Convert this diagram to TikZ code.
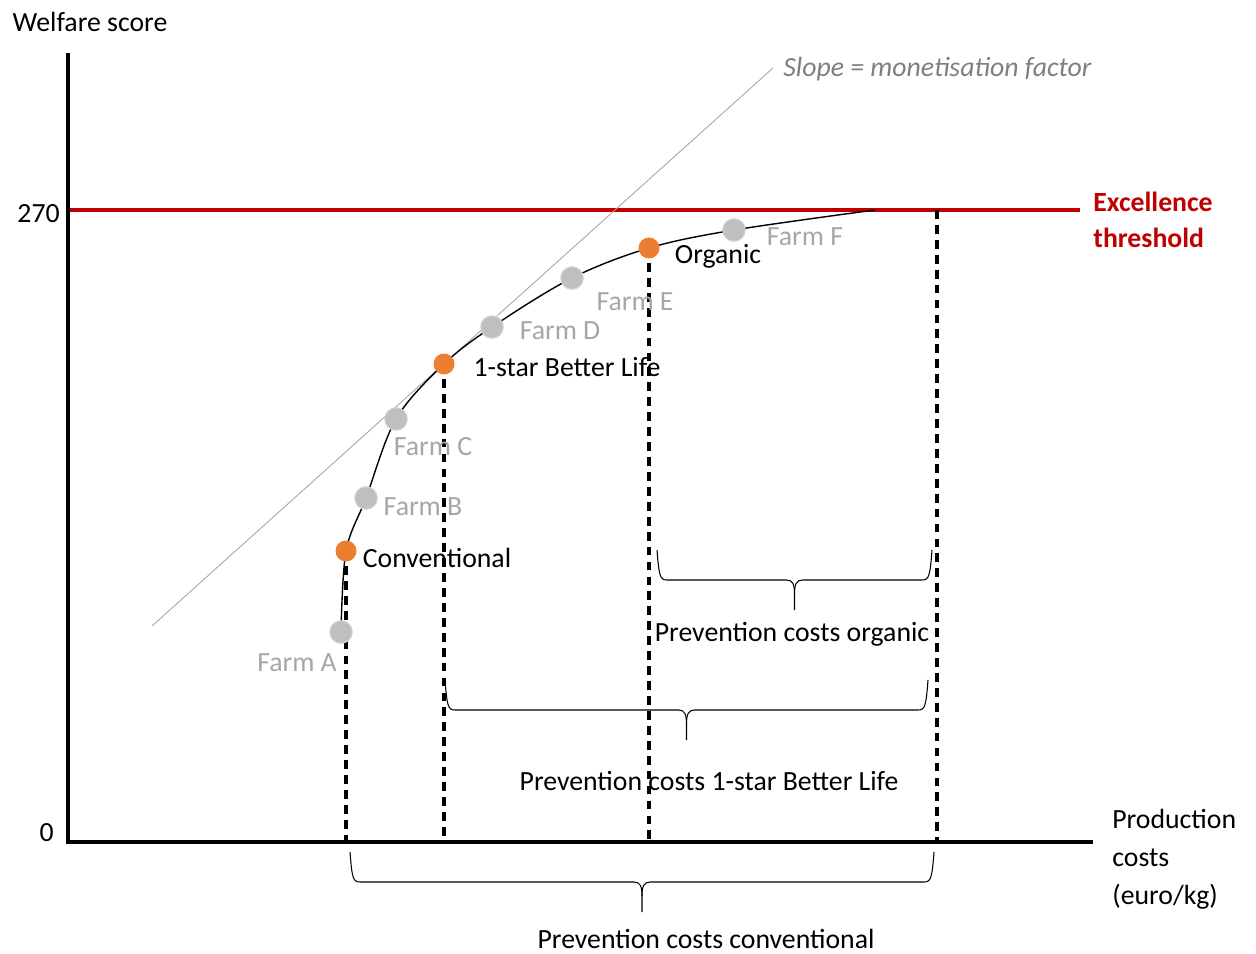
\documentclass[tikz,border=0pt]{standalone}
\usepackage{fontspec}
\setmainfont{Carlito}
\definecolor{exred}{HTML}{C00000}
\definecolor{dotor}{HTML}{ED7D31}
\definecolor{dotgr}{HTML}{BFBFBF}
\definecolor{farmgr}{HTML}{A6A6A6}
\definecolor{slopegr}{HTML}{7F7F7F}
\newcommand{\costbrace}[3]{%
  \pgfmathsetmacro\bm{(#1+#2)/2}%
  \draw[bracestyle] (#1,#3) .. controls (#1+2,#3+26) and (#1+3,#3+30) .. (#1+10,#3+30)
     -- (\bm-8,#3+30) .. controls (\bm-2,#3+30) and (\bm,#3+34) .. (\bm,#3+44) -- (\bm,#3+60);
  \draw[bracestyle] (#2,#3) .. controls (#2-2,#3+26) and (#2-3,#3+30) .. (#2-10,#3+30)
     -- (\bm+8,#3+30) .. controls (\bm+2,#3+30) and (\bm,#3+34) .. (\bm,#3+44);
}
\begin{document}
\begin{tikzpicture}[x=0.02cm,y=-0.02cm,
  every node/.style={font=\fontsize{15.8}{21}\selectfont, inner sep=0pt},
  lbl/.style={text height=0.644em, text depth=0pt, yshift=-0.07cm},
  farm/.style={lbl, text=farmgr},
  axisline/.style={line width=2pt},
  redline/.style={line width=2pt, exred},
  dsh/.style={line width=1.8pt, dash pattern=on 5pt off 3.5pt},
  curvestyle/.style={line width=0.8pt},
  slopestyle/.style={line width=0.5pt, farmgr},
  bracestyle/.style={line width=0.6pt},
  odot/.style={circle, fill=dotor, minimum size=0.42cm},
  gdot/.style={circle, fill=dotgr, draw=dotgr!70, line width=0.6pt, minimum size=0.45cm}]
\useasboundingbox (0,0) rectangle (1256,953);
% key coordinates
\coordinate (ytop) at (68,53);
\coordinate (O) at (68,842);
\coordinate (xend) at (1093,842);
\coordinate (r1) at (70,210);
\coordinate (r2) at (1080,210);
\coordinate (thr) at (937,210);
\coordinate (s1) at (152,626);
\coordinate (s2) at (773,68);
\coordinate (pA) at (341,632);
\coordinate (pConv) at (346,551);
\coordinate (pB) at (366,498);
\coordinate (pC) at (396,419);
\coordinate (pOne) at (444,364);
\coordinate (pD) at (492,327);
\coordinate (pE) at (572,278);
\coordinate (pOrg) at (649,248);
\coordinate (pF) at (734,230);
\coordinate (pEnd) at (875,210);
% axes and threshold
\draw[axisline] (ytop) -- (O) -- (xend);
\draw[redline] (r1) -- (r2);
% slope line
\draw[slopestyle] (s1) -- (s2);
% curve
\draw[curvestyle] plot[smooth, tension=0.55] coordinates {(pA) (pConv) (pB) (pC) (pOne) (pD) (pE) (pOrg) (pF) (pEnd)};
% dashed verticals
\draw[dsh] (pConv) -- (pConv |- O);
\draw[dsh] (pOne) -- (pOne |- O);
\draw[dsh] (pOrg) -- (pOrg |- O);
\draw[dsh] (thr) -- (thr |- O);
% dots
\node[gdot] (farmA) at (pA) {};
\node[gdot] (farmB) at (pB) {};
\node[gdot] (farmC) at (pC) {};
\node[gdot] (farmD) at (pD) {};
\node[gdot] (farmE) at (pE) {};
\node[gdot] (farmF) at (pF) {};
\node[odot] (conv) at (pConv) {};
\node[odot] (onestar) at (pOne) {};
\node[odot] (organic) at (pOrg) {};
% braces
\costbrace{657}{932}{550}
\costbrace{445}{928}{680}
\costbrace{350}{934}{852}
% labels
\node[lbl] (ylabel) at (90,22) {Welfare score};
\node[lbl, anchor=east] (t270) at (60,213) {270};
\node[lbl, anchor=east] (t0) at (54,832) {0};
\node[lbl, anchor=west, text=slopegr, font=\fontsize{15.8}{21}\selectfont\itshape] (slopelbl) at (783,67) {Slope = monetisation factor};
\node[anchor=west, align=left, text=exred, font=\fontsize{15.8}{21}\selectfont\bfseries] (exlbl) at (1093,220) {Excellence\\[-0.4pt]threshold};
\node[anchor=west, align=left, font=\fontsize{15.8}{21.5}\selectfont] (xlabel) at (1112,859) {Production\\costs\\(euro/kg)};
\node[farm] (lA) at (297,662) {Farm A};
\node[farm] (lB) at (423,506) {Farm B};
\node[farm] (lC) at (433,446) {Farm C};
\node[farm] (lD) at (560,330) {Farm D};
\node[farm] (lE) at (635,301) {Farm E};
\node[farm] (lF) at (805,236) {Farm F};
\node[lbl] (lConv) at (437,558) {Conventional};
\node[lbl] (lOne) at (567,367) {1-star Better Life};
\node[lbl] (lOrg) at (718,254) {Organic};
\node[lbl] (pcOrg) at (792,632) {Prevention costs organic};
\node[lbl] (pcOne) at (709,781) {Prevention costs 1-star Better Life};
\node[lbl] (pcConv) at (706,939) {Prevention costs conventional};
\end{tikzpicture}
\end{document}
